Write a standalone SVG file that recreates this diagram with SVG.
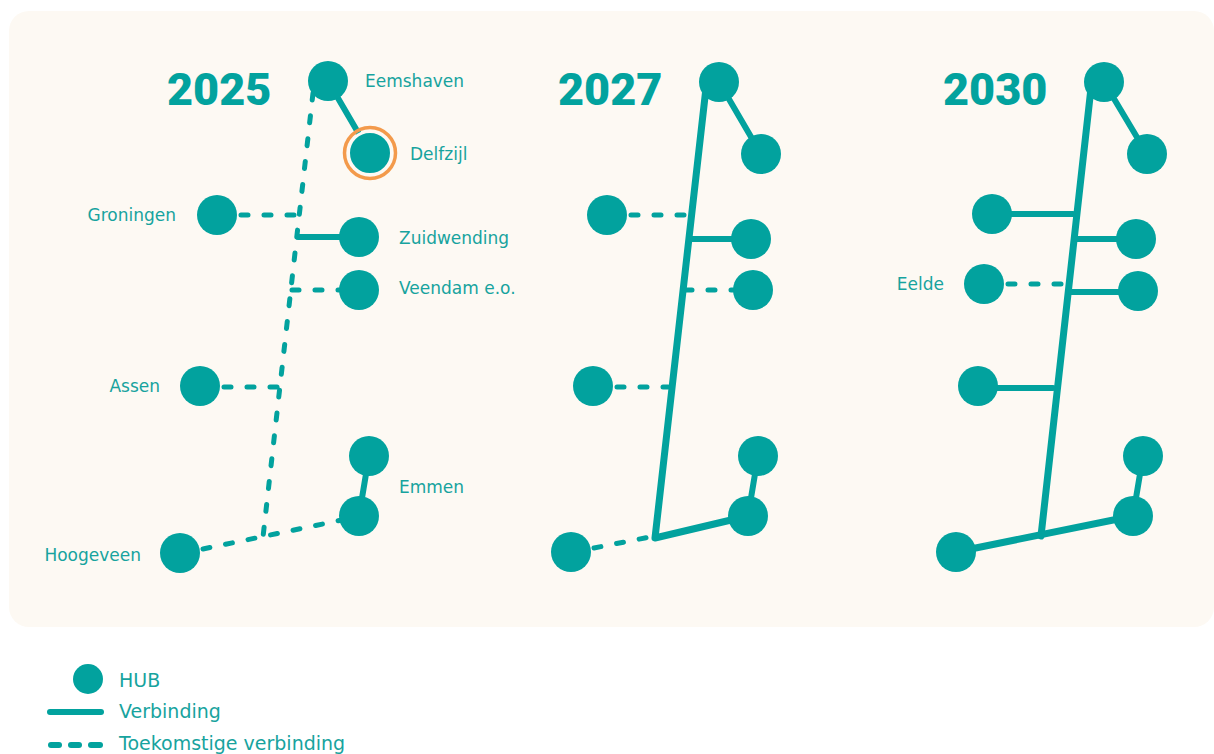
<svg xmlns="http://www.w3.org/2000/svg" width="1214" height="754" viewBox="0 0 1214 754">
<style>
.hub{fill:#02A29E}
.ln{stroke:#02A29E;stroke-width:6;stroke-linecap:round;fill:none}
.tr{stroke:#02A29E;stroke-width:7;stroke-linecap:round;stroke-linejoin:round;fill:none}
.ds{stroke:#02A29E;stroke-width:5;stroke-linecap:round;stroke-dasharray:7 16;fill:none}
.lbl{font-family:"DejaVu Sans",Verdana,sans-serif;font-size:17px;fill:#17A39E}
.yr{font-family:Roboto,"Liberation Sans",Arial,sans-serif;font-weight:900;font-size:45px;fill:#02A29E}
.lg{font-family:"DejaVu Sans",Verdana,sans-serif;font-size:19px;fill:#17A39E}
</style>
<rect x="0" y="0" width="1214" height="754" fill="#FFFFFF"/>
<rect x="9" y="11" width="1205" height="616" rx="20" fill="#FDF9F3"/>

<g id="connectors">
  <!-- 2025 -->
  <path class="ds" d="M313,93 L263,537"/>
  <line class="ln" x1="328" y1="81" x2="370" y2="153"/>
  <line class="ds" x1="241" y1="215" x2="300" y2="215"/>
  <line class="ln" x1="298" y1="237" x2="345" y2="237"/>
  <line class="ds" x1="292" y1="290" x2="345" y2="290"/>
  <line class="ds" x1="224" y1="387" x2="281" y2="387"/>
  <line class="ds" x1="203" y1="549" x2="342" y2="520"/>
  <line class="ln" x1="369" y1="456" x2="359" y2="516"/>
  <!-- 2027 -->
  <path class="tr" d="M706,88 L655,538 L748,516"/>
  <line class="ln" x1="719" y1="82" x2="761" y2="154"/>
  <line class="ds" x1="631" y1="215" x2="688" y2="215"/>
  <line class="ln" x1="690" y1="239" x2="740" y2="239"/>
  <line class="ds" x1="685" y1="290" x2="740" y2="290"/>
  <line class="ds" x1="617" y1="387" x2="668" y2="387"/>
  <line class="ds" x1="594" y1="548" x2="650" y2="537"/>
  <line class="ln" x1="758" y1="456" x2="748" y2="516"/>
  <!-- 2030 -->
  <line class="tr" x1="1091" y1="88" x2="1041" y2="536"/>
  <line class="tr" x1="956" y1="552" x2="1133" y2="516"/>
  <line class="ln" x1="1104" y1="82" x2="1147" y2="154"/>
  <line class="ln" x1="992" y1="214" x2="1073" y2="214"/>
  <line class="ln" x1="1076" y1="239" x2="1136" y2="239"/>
  <line class="ds" x1="1008" y1="284" x2="1064" y2="284"/>
  <line class="ln" x1="1071" y1="292" x2="1138" y2="292"/>
  <line class="ln" x1="978" y1="388" x2="1053" y2="388"/>
  <line class="ln" x1="1143" y1="456" x2="1133" y2="516"/>
</g>

<g id="years">
  <text class="yr" x="167" y="105">2025</text>
  <text class="yr" x="558" y="105">2027</text>
  <text class="yr" x="943" y="105">2030</text>
</g>

<!-- 2025 nodes -->
<g id="n2025-eemshaven"><circle class="hub" cx="328" cy="81" r="20"/><text class="lbl" x="365" y="87">Eemshaven</text></g>
<g id="n2025-delfzijl">
  <circle cx="370" cy="153" r="25.5" fill="none" stroke="#F39A4B" stroke-width="3.5"/>
  <circle class="hub" cx="370" cy="153" r="21.5" stroke="#FDF9F3" stroke-width="3"/>
  <text class="lbl" x="410" y="160">Delfzijl</text>
</g>
<g id="n2025-groningen"><circle class="hub" cx="217" cy="215" r="20"/><text class="lbl" x="176" y="221" text-anchor="end">Groningen</text></g>
<g id="n2025-zuidwending"><circle class="hub" cx="359" cy="237" r="20"/><text class="lbl" x="399" y="244">Zuidwending</text></g>
<g id="n2025-veendam"><circle class="hub" cx="359" cy="290" r="20"/><text class="lbl" x="399" y="294">Veendam e.o.</text></g>
<g id="n2025-assen"><circle class="hub" cx="200" cy="386" r="20"/><text class="lbl" x="160" y="392" text-anchor="end">Assen</text></g>
<g id="n2025-emmen-n"><circle class="hub" cx="369" cy="456" r="20"/></g>
<g id="n2025-emmen"><circle class="hub" cx="359" cy="516" r="20"/><text class="lbl" x="399" y="493">Emmen</text></g>
<g id="n2025-hoogeveen"><circle class="hub" cx="180" cy="553" r="20"/><text class="lbl" x="141" y="561" text-anchor="end">Hoogeveen</text></g>

<!-- 2027 nodes -->
<g id="n2027-eemshaven"><circle class="hub" cx="719" cy="82" r="20"/></g>
<g id="n2027-delfzijl"><circle class="hub" cx="761" cy="154" r="20"/></g>
<g id="n2027-groningen"><circle class="hub" cx="607" cy="215" r="20"/></g>
<g id="n2027-zuidwending"><circle class="hub" cx="751" cy="239" r="20"/></g>
<g id="n2027-veendam"><circle class="hub" cx="753" cy="290" r="20"/></g>
<g id="n2027-assen"><circle class="hub" cx="593" cy="386" r="20"/></g>
<g id="n2027-emmen-n"><circle class="hub" cx="758" cy="456" r="20"/></g>
<g id="n2027-emmen"><circle class="hub" cx="748" cy="516" r="20"/></g>
<g id="n2027-hoogeveen"><circle class="hub" cx="571" cy="552" r="20"/></g>

<!-- 2030 nodes -->
<g id="n2030-eemshaven"><circle class="hub" cx="1104" cy="82" r="20"/></g>
<g id="n2030-delfzijl"><circle class="hub" cx="1147" cy="154" r="20"/></g>
<g id="n2030-groningen"><circle class="hub" cx="992" cy="214" r="20"/></g>
<g id="n2030-zuidwending"><circle class="hub" cx="1136" cy="239" r="20"/></g>
<g id="n2030-eelde"><circle class="hub" cx="984" cy="284" r="20"/><text class="lbl" x="944" y="290" text-anchor="end">Eelde</text></g>
<g id="n2030-veendam"><circle class="hub" cx="1138" cy="291" r="20"/></g>
<g id="n2030-assen"><circle class="hub" cx="978" cy="386" r="20"/></g>
<g id="n2030-emmen-n"><circle class="hub" cx="1143" cy="456" r="20"/></g>
<g id="n2030-emmen"><circle class="hub" cx="1133" cy="516" r="20"/></g>
<g id="n2030-hoogeveen"><circle class="hub" cx="956" cy="552" r="20"/></g>

<g id="legend">
  <circle class="hub" cx="88" cy="679" r="15"/>
  <text class="lg" x="119" y="687">HUB</text>
  <line class="ln" x1="50" y1="712" x2="101" y2="712"/>
  <text class="lg" x="119" y="718">Verbinding</text>
  <line class="ln" x1="51" y1="745" x2="59" y2="745" stroke-width="5"/>
  <line class="ln" x1="71" y1="745" x2="79" y2="745" stroke-width="5"/>
  <line class="ln" x1="91" y1="745" x2="100" y2="745" stroke-width="5"/>
  <text class="lg" x="119" y="750">Toekomstige verbinding</text>
</g>
</svg>
